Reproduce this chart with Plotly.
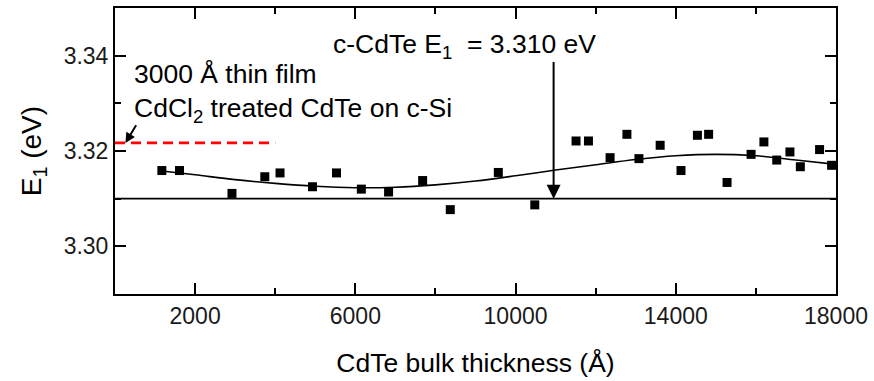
import plotly.graph_objects as go

# Measured E1 critical-point energies vs. CdTe bulk layer thickness
thickness = [1170, 1610, 2920, 3740, 4120, 4930, 5530, 6150, 6830, 7680,
             8370, 9570, 10480, 11510, 11820, 12360, 12780, 13080, 13610, 14130,
             14540, 14820, 15280, 15880, 16200, 16520, 16850, 17110, 17590, 17890]
e1 = [3.3159, 3.3159, 3.3111, 3.3146, 3.3154, 3.3125, 3.3154, 3.3120, 3.3114, 3.3138,
      3.3077, 3.3155, 3.3087, 3.3221, 3.3221, 3.3186, 3.3235, 3.3184, 3.3212, 3.3159,
      3.3233, 3.3235, 3.3134, 3.3193, 3.3219, 3.3181, 3.3198, 3.3167, 3.3203, 3.3170]

# Smooth guide curve through the data
fit_x = [1170, 2000, 3000, 4000, 5000, 6000, 7000, 8000, 9000, 10000,
         11000, 12000, 13000, 14000, 15000, 16000, 17000, 18000]
fit_y = [3.3158, 3.3150, 3.3140, 3.3132, 3.3126, 3.3123, 3.3124, 3.3129, 3.3137, 3.3148,
         3.3160, 3.3171, 3.3182, 3.3190, 3.3193, 3.3190, 3.3181, 3.3172]

# Reference values
e1_crystal = 3.310          # c-CdTe E1
e1_thin_film = 3.3217       # 3000 A CdCl2-treated film on c-Si
thin_film_span = [0, 4000]
crystal_arrow_x = 10950

# Axis ranges and tick positions
x_range = [0, 18000]
y_range = [3.29, 3.35]
x_major = [2000, 6000, 10000, 14000, 18000]
x_major_text = ["2000", "6000", "10000", "14000", "18000"]
x_minor = [0, 4000, 8000, 12000, 16000]
y_major = [3.30, 3.32, 3.34]
y_major_text = ["3.30", "3.32", "3.34"]
y_minor = [3.29, 3.31, 3.33, 3.35]

FONT = "Liberation Sans, Arial, sans-serif"

traces = [
    # crystalline reference line (drawn on the overlay axes, same ranges)
    go.Scatter(x=x_range, y=[e1_crystal, e1_crystal], mode="lines", xaxis="x2", yaxis="y2",
               line=dict(color="black", width=1.6), showlegend=False),
    go.Scatter(x=thin_film_span, y=[e1_thin_film, e1_thin_film], mode="lines",
               line=dict(color="#ff0000", width=2.6, dash="10px,6px"), showlegend=False),
    go.Scatter(x=fit_x, y=fit_y, mode="lines",
               line=dict(color="black", width=1.6, shape="spline", smoothing=1.0),
               showlegend=False),
    go.Scatter(x=thickness, y=e1, mode="markers",
               marker=dict(symbol="square", size=9, color="black", line=dict(width=0)),
               showlegend=False),
]

fig = go.Figure(data=traces)

text_font = dict(family=FONT, size=26.5, color="black")

annotations = [
    dict(x=5380, y=3.3421, xref="x", yref="y",
         text="c-CdTe E<sub>1</sub>&nbsp; = 3.310 eV",
         showarrow=False, xanchor="left", yanchor="middle", font=text_font),
    dict(x=420, y=3.3362, xref="x", yref="y", text="3000 Å thin film",
         showarrow=False, xanchor="left", yanchor="middle", font=text_font),
    dict(x=420, y=3.3285, xref="x", yref="y", text="CdCl<sub>2</sub> treated CdTe on c-Si",
         showarrow=False, xanchor="left", yanchor="middle", font=text_font),
    # arrow to the crystalline reference line
    dict(x=crystal_arrow_x, y=e1_crystal, xref="x", yref="y",
         ax=crystal_arrow_x, ay=3.3390, axref="x", ayref="y", text="",
         showarrow=True, arrowhead=2, arrowsize=1.4, arrowwidth=2, arrowcolor="black"),
    # arrow to the thin-film line
    dict(x=260, y=e1_thin_film, xref="x", yref="y",
         ax=550, ay=3.3257, axref="x", ayref="y", text="",
         showarrow=True, arrowhead=2, arrowsize=1.0, arrowwidth=2, arrowcolor="black"),
]

fig.update_layout(
    width=874, height=381,
    margin=dict(l=115, r=35, t=6, b=87),
    plot_bgcolor="white",
    annotations=annotations,
    xaxis=dict(
        range=x_range, tickmode="array", tickvals=x_major, ticktext=x_major_text,
        showline=True, linewidth=2, linecolor="black", mirror="ticks",
        ticks="inside", ticklen=11, tickwidth=2, tickcolor="black",
        showgrid=False, zerolinecolor="black", zerolinewidth=2,
        tickfont=dict(family=FONT, size=23, color="#1a1a1a"),
        title=dict(text="CdTe bulk thickness (Å)",
                   font=dict(family=FONT, size=26.5, color="black"), standoff=26),
    ),
    yaxis=dict(
        range=y_range, tickmode="array", tickvals=y_major, ticktext=y_major_text,
        showline=True, linewidth=2, linecolor="black", mirror="ticks",
        ticks="inside", ticklen=11, tickwidth=2, tickcolor="black",
        showgrid=False, zerolinecolor="black", zerolinewidth=2,
        tickfont=dict(family=FONT, size=23, color="#1a1a1a"),
        title=dict(text="E<sub>1</sub> (eV)",
                   font=dict(family=FONT, size=28, color="black"), standoff=14),
    ),
    # overlay axes carry the short minor ticks
    xaxis2=dict(range=x_range, overlaying="x", anchor="y2", side="bottom",
                tickmode="array", tickvals=x_minor, showline=False, mirror="ticks",
                ticks="inside", ticklen=6, tickwidth=2, tickcolor="black",
                showgrid=False, zerolinecolor="black", showticklabels=False),
    yaxis2=dict(range=y_range, overlaying="y", anchor="x2", side="left",
                tickmode="array", tickvals=y_minor, showline=False, mirror="ticks",
                ticks="inside", ticklen=6, tickwidth=2, tickcolor="black",
                showgrid=False, showticklabels=False),
)

fig.write_html("out.html")
